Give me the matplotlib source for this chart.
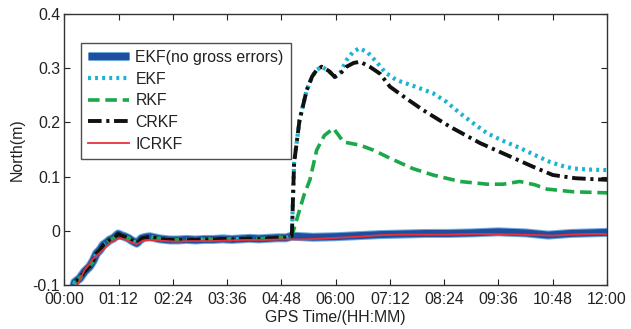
import matplotlib
matplotlib.use("Agg")
import matplotlib.pyplot as plt
import matplotlib.patheffects as pe
import numpy as np

# ---- data (hours, metres) ----
# common early part (all estimators nearly identical before the gross errors)
t_early = [0.15, 0.23, 0.34, 0.45, 0.56, 0.64, 0.71, 0.79, 0.86, 0.93, 1.00, 1.08, 1.19, 1.27,
           1.34, 1.42, 1.49, 1.60, 1.71, 1.80, 1.89, 2.00, 2.11, 2.22, 2.33, 2.52, 2.70, 2.90,
           3.10, 3.30, 3.50, 3.70, 3.90, 4.10, 4.30, 4.50, 4.70, 4.90, 5.03]
v_early = [-0.125, -0.095, -0.088, -0.075, -0.066, -0.055, -0.042, -0.035, -0.026, -0.022, -0.017,
           -0.014, -0.006, -0.009, -0.011, -0.014, -0.018, -0.023, -0.014, -0.012, -0.011, -0.013,
           -0.015, -0.016, -0.017, -0.017, -0.016, -0.017, -0.016, -0.016, -0.015, -0.016, -0.015,
           -0.014, -0.015, -0.014, -0.013, -0.013, -0.010]

# EKF without gross errors (slow drift afterwards)
t_clean_tail = [5.5, 6.0, 6.5, 7.0, 7.5, 8.0, 8.5, 9.0, 9.6, 10.2, 10.7, 11.2, 11.6, 12.0]
v_clean_tail = [-0.012, -0.011, -0.009, -0.007, -0.006, -0.005, -0.005, -0.004, -0.002, -0.004,
                -0.008, -0.005, -0.004, -0.003]

# EKF with gross errors
t_ekf_tail = [5.08, 5.20, 5.36, 5.48, 5.58, 5.69, 5.85, 5.98, 6.10, 6.24, 6.38, 6.52, 6.70,
              6.90, 7.10, 7.35, 7.70, 8.15, 8.45, 8.75, 9.05, 9.35, 9.70, 10.07, 10.40, 10.74,
              11.00, 11.25, 11.60, 12.0]
v_ekf_tail = [0.125, 0.204, 0.260, 0.285, 0.297, 0.303, 0.295, 0.284, 0.292, 0.315, 0.330,
              0.337, 0.330, 0.312, 0.292, 0.278, 0.268, 0.254, 0.238, 0.217, 0.198, 0.180,
              0.166, 0.153, 0.140, 0.127, 0.120, 0.115, 0.113, 0.112]

# RKF
t_rkf_tail = [5.20, 5.30, 5.43, 5.58, 5.75, 5.95, 6.05, 6.17, 6.54, 6.83, 7.20, 7.70, 8.15,
              8.75, 9.35, 9.70, 10.07, 10.40, 10.67, 11.25, 12.0]
v_rkf_tail = [0.038, 0.066, 0.094, 0.149, 0.176, 0.189, 0.178, 0.164, 0.158, 0.149, 0.134,
              0.115, 0.103, 0.091, 0.086, 0.086, 0.091, 0.085, 0.077, 0.072, 0.070]

# CRKF
t_crkf_tail = [5.08, 5.20, 5.36, 5.48, 5.58, 5.69, 5.85, 5.98, 6.10, 6.24, 6.40, 6.54, 6.75,
               6.98, 7.20, 7.55, 7.93, 8.53, 9.19, 9.78, 10.37, 10.80, 11.30, 12.0]
v_crkf_tail = [0.125, 0.204, 0.260, 0.285, 0.297, 0.303, 0.295, 0.284, 0.290, 0.303, 0.310,
               0.312, 0.303, 0.290, 0.266, 0.245, 0.223, 0.192, 0.162, 0.140, 0.118, 0.103,
               0.097, 0.094]

# ICRKF
t_icrkf = [0.15, 0.25, 0.34, 0.45, 0.55, 0.64, 0.75, 0.86, 0.93, 1.00, 1.12, 1.23, 1.34, 1.45,
           1.60, 1.74, 1.85, 1.96, 2.10, 2.26, 2.48, 2.80, 3.20, 3.60, 4.00, 4.40, 4.80, 5.20,
           5.60, 6.00, 6.50, 7.00, 7.50, 8.00, 8.50, 9.00, 9.50, 10.00, 10.50, 10.80, 11.20,
           11.60, 12.0]
v_icrkf = [-0.13, -0.105, -0.091, -0.072, -0.062, -0.051, -0.043, -0.035, -0.029, -0.023,
           -0.017, -0.014, -0.016, -0.020, -0.025, -0.018, -0.017, -0.017, -0.018, -0.019,
           -0.020, -0.019, -0.019, -0.018, -0.017, -0.017, -0.016, -0.016, -0.015, -0.013,
           -0.011, -0.008, -0.007, -0.007, -0.007, -0.006, -0.006, -0.007, -0.008, -0.009,
           -0.007, -0.006, -0.006]

x_ticks = [0, 1.2, 2.4, 3.6, 4.8, 6.0, 7.2, 8.4, 9.6, 10.8, 12.0]
x_tick_labels = ["00:00", "01:12", "02:24", "03:36", "04:48", "06:00", "07:12", "08:24",
                 "09:36", "10:48", "12:00"]
y_ticks = [-0.1, 0, 0.1, 0.2, 0.3, 0.4]
y_tick_labels = ["-0.1", "0", "0.1", "0.2", "0.3", "0.4"]

labels = ["EKF(no gross errors)", "EKF", "RKF", "CRKF", "ICRKF"]

# ---- plot ----
plt.rcParams['font.family'] = ['Liberation Sans', 'DejaVu Sans']
fig = plt.figure(figsize=(6.31, 3.29), dpi=100)
ax = fig.add_axes([0.102, 0.134, 0.860, 0.823])

fs = 11.4
blue = '#1f4e9e'
cyan = '#1cb3d3'
green = '#1aa84a'
red = '#e8313b'

ax.plot(t_early + t_clean_tail, v_early + v_clean_tail, color=blue, lw=5.0,
        solid_capstyle='butt', label=labels[0],
        path_effects=[pe.Stroke(linewidth=6.5, foreground='#6fa8dc'), pe.Normal()])
ax.plot(t_early + t_ekf_tail, v_early + v_ekf_tail, color=cyan, lw=3.0,
        linestyle=(0, (0.7, 1.0)), label=labels[1])
ax.plot(t_early + t_rkf_tail, v_early + v_rkf_tail, color=green, lw=2.6,
        linestyle=(0, (3.2, 1.6)), label=labels[2])
ax.plot(t_early + t_crkf_tail, v_early + v_crkf_tail, color='#111111', lw=2.8,
        linestyle=(0, (3.5, 1.2, 0.8, 1.2)), label=labels[3])
ax.plot(t_icrkf, v_icrkf, color=red, lw=1.3, label=labels[4])

ax.set_xlim(0, 12)
ax.set_ylim(-0.1, 0.4)
ax.set_xticks(x_ticks)
ax.set_xticklabels(x_tick_labels)
ax.set_yticks(y_ticks)
ax.set_yticklabels(y_tick_labels)
ax.tick_params(direction='in', length=4, width=0.8, top=True, right=True,
               labelsize=fs, colors='#222222', pad=3)
ax.tick_params(axis='x', pad=5)
for s in ax.spines.values():
    s.set_linewidth(1.0)
    s.set_color('#333333')
ax.set_xlabel("GPS Time/(HH:MM)", fontsize=fs, labelpad=2, color='#222222')
ax.set_ylabel("North(m)", fontsize=fs, labelpad=6, color='#222222')

leg = ax.legend(loc='upper left', bbox_to_anchor=(0.030, 0.894), borderaxespad=0,
                fontsize=fs, frameon=True, fancybox=False, edgecolor='#222222',
                handlelength=2.6, handletextpad=0.4, labelspacing=0.42, borderpad=0.45)
leg.get_frame().set_linewidth(1.0)
for t in leg.get_texts():
    t.set_color('#222222')

fig.savefig("out.png", dpi=100)
